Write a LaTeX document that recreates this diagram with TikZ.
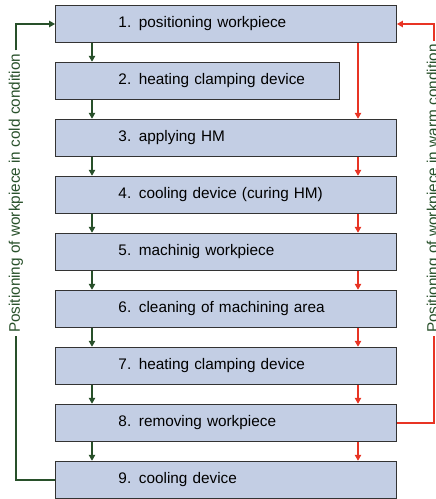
\documentclass[tikz,border=0pt]{standalone}
\usepackage{fontspec}
\setmainfont{Liberation Sans}
\usepackage{tikz}
\usetikzlibrary{arrows.meta,positioning,calc}
\usepackage{xcolor}
\definecolor{boxfill}{RGB}{195,206,228}
\definecolor{cold}{RGB}{40,80,42}
\definecolor{warm}{RGB}{232,52,36}

\tikzset{
  stepbox/.style={draw=black!80, line width=0.7pt, fill=boxfill, anchor=west,
    minimum height=0.94cm, inner xsep=0pt, text width=8.525cm, align=left,
    execute at begin node=\hspace*{1.575cm},
    font=\fontsize{10.9}{13}\selectfont},
  coldarrow/.style={cold, line width=0.8pt, -{Triangle[length=4.2pt,width=4.6pt]}},
  warmarrow/.style={warm, line width=0.8pt, -{Triangle[length=4.2pt,width=4.6pt]}},
  sidelabel/.style={text=cold, rotate=90, anchor=west, inner xsep=2pt, inner ysep=0pt,
    font=\fontsize{10.9}{13}\selectfont}
}

\begin{document}
\begin{tikzpicture}
\useasboundingbox (0,0) rectangle (10.875,-12.475);

% process steps
\node[stepbox] (s1) at (1.375,-0.6) {1. positioning workpiece};
\node[stepbox, text width=7.1cm] (s2) at (1.375,-2.025) {2. heating clamping device};
\node[stepbox] (s3) at (1.375,-3.45) {3. applying HM};
\node[stepbox] (s4) at (1.375,-4.875) {4. cooling device (curing HM)};
\node[stepbox] (s5) at (1.375,-6.3) {5. machinig workpiece};
\node[stepbox] (s6) at (1.375,-7.725) {6. cleaning of machining area};
\node[stepbox] (s7) at (1.375,-9.15) {7. heating clamping device};
\node[stepbox] (s8) at (1.375,-10.575) {8. removing workpiece};
\node[stepbox] (s9) at (1.375,-12.0) {9. cooling device};

\coordinate (gx) at (2.3,0);
\coordinate (rx) at (8.95,0);

% cold route: every step
\foreach \i/\j in {1/2,2/3,3/4,4/5,5/6,6/7,7/8,8/9}
  \draw[coldarrow] (s\i.south -| gx) -- (s\j.north -| gx);

% warm route: skips step 2
\draw[warmarrow] (s1.south -| rx) -- (s3.north -| rx);
\foreach \i/\j in {3/4,4/5,5/6,6/7,7/8,8/9}
  \draw[warmarrow] (s\i.south -| rx) -- (s\j.north -| rx);

% return loops
\node[sidelabel] (coldtxt) at (0.4,-8.4) {Positioning of workpiece in cold condition};
\node[sidelabel] (warmtxt) at (10.85,-8.4) {Positioning of workpiece in warm condition};

\draw[cold, line width=0.8pt] (s9.west) -| (coldtxt.west);
\draw[coldarrow] (coldtxt.east) |- (s1.west);
\draw[warm, line width=0.8pt] (s8.east) -| (warmtxt.west);
\draw[warmarrow] (warmtxt.east) |- (s1.east);
\end{tikzpicture}
\end{document}
